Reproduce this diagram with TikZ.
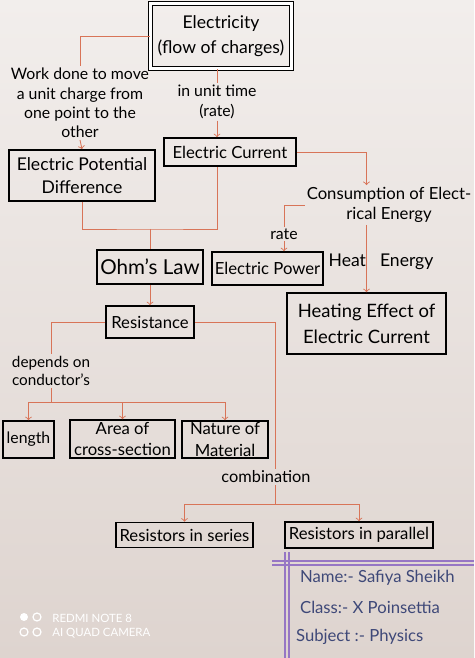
\documentclass[tikz,border=0pt]{standalone}
\usepackage{fontspec}
\setmainfont{Lato}

\definecolor{paper}{RGB}{242,238,236}
\definecolor{paperlow}{RGB}{222,212,207}
\definecolor{redline}{RGB}{216,116,88}
\definecolor{frame}{RGB}{150,118,196}
\definecolor{ink}{RGB}{62,72,120}

\tikzset{
  box/.style={draw, line width=0.9pt, align=center, inner sep=0pt, font=\fontsize{9.5}{12}\selectfont},
  txt/.style={align=center, inner sep=1pt, font=\fontsize{9}{11}\selectfont},
  link/.style={redline, line width=0.5pt},
}

\begin{document}
\begin{tikzpicture}[x=0.02cm, y=-0.02cm]
    \useasboundingbox (0, 0) rectangle (474, 658);
    \shade [top color=paper, bottom color=paperlow] (0, 0) rectangle (474, 658);
    % top
    \node [box, double, line width=0.6pt, double distance=1.6pt, minimum width=2.82cm, minimum height=1.30cm,
           font=\fontsize{10}{14}\selectfont] (elec) at (221, 36) {Electricity\\(flow of charges)};
    \node [txt] (work) at (80, 103) {Work done to move\\a unit charge from\\one point to the\\other};
    \node [txt] (time) at (217, 102) {in unit time\\(rate)};
    \node [box, minimum width=2.92cm, minimum height=1.02cm, font=\fontsize{10}{13}\selectfont] (epd) at (82, 175.5) {Electric Potential\\Difference};
    \node [box, minimum width=2.64cm, minimum height=0.56cm] (cur) at (230, 152) {Electric Current};
    % energy side
    \node [txt, font=\fontsize{9.5}{11.5}\selectfont] (cons) at (389, 205) {Consumption of Elect-\\rical Energy};
    \node [txt] (rate) at (284, 234) {rate};
    \node [box, minimum width=2.22cm, minimum height=0.66cm] (power) at (267.5, 268.5) {Electric Power};
    \node [txt, font=\fontsize{10}{12}\selectfont] (heatE) at (381, 262) {Heat\hspace{0.8em}Energy};
    \node [box, minimum width=3.18cm, minimum height=1.22cm, font=\fontsize{10.5}{15}\selectfont] (heat) at (366.5, 323.5) {Heating Effect of\\Electric Current};
    % resistance
    \node [box, minimum width=2.12cm, minimum height=0.68cm, font=\fontsize{11.7}{14}\selectfont] (ohm) at (150, 267) {Ohm's Law};
    \node [box, minimum width=1.76cm, minimum height=0.64cm] (res) at (150, 322) {Resistance};
    \node [txt, font=\fontsize{8.7}{10.5}\selectfont] (dep) at (51, 371) {depends on\\conductor's};
    \node [box, minimum width=1.02cm, minimum height=0.74cm, font=\fontsize{9}{11}\selectfont] (len) at (28.5, 439.5) {length};
    \node [box, minimum width=2.10cm, minimum height=0.76cm] (area) at (122.5, 439) {Area of\\cross-section};
    \node [box, minimum width=1.72cm, minimum height=0.74cm] (nat) at (225, 439.5) {Nature of\\Material};
    \node [txt, font=\fontsize{9.3}{11}\selectfont] (comb) at (266, 477) {combination};
    \node [box, minimum width=2.74cm, minimum height=0.50cm] (ser) at (184.5, 535) {Resistors in series};
    \node [box, minimum width=2.96cm, minimum height=0.52cm] (par) at (359, 535) {Resistors in parallel};
    \coordinate (jn) at (150, 229);
    \coordinate (bus1) at (51, 402);
    \coordinate (bus2) at (275, 504);
    % links
    \draw [link]     (elec.west) -| (work.north);
    \draw [link, ->] (work.south) -- (epd.north);
    \draw [link]     (time.north |- elec.south) -- (time.north);
    \draw [link, ->] (time.south) -- (time.south |- cur.north);
    \draw [link, ->] (cur.east) -| (cons.north -| heat.north);
    \draw [link]     (cons.west) -| (rate.north);
    \draw [link, ->] (rate.south) -- (rate.south |- power.north);
    \draw [link, ->] (cons.south -| heat.north) -- (heat.north);
    \draw [link]     (epd.south) |- (jn) -| (time.south |- cur.south);
    \draw [link]     (jn) -- (ohm.north);
    \draw [link, ->] (ohm.south) -- (res.north);
    \draw [link]     (res.west) -| (dep.north);
    \draw [link]     (dep.south) -- (bus1);
    \draw [link]     (bus1 -| len.north) -- (bus1 -| nat.north);
    \foreach \n in {len, area, nat}
        \draw [link, ->] (bus1 -| \n.north) -- (\n.north);
    \draw [link]     (res.east) -| (bus2 |- comb.north);
    \draw [link]     (bus2 |- comb.south) -- (bus2);
    \draw [link]     (bus2 -| ser.north) -- (bus2 -| par.north);
    \foreach \n in {ser, par}
        \draw [link, ->] (bus2 -| \n.north) -- (\n.north);
    % name frame
    \draw [frame, line width=0.6pt] (285, 552) -- (285, 658) (289, 552) -- (289, 658);
    \draw [frame, line width=0.6pt] (272, 561) -- (474, 561) (272, 565) -- (474, 565);
    \node [txt, ink, anchor=west, font=\fontsize{9.5}{11}\selectfont] (name) at (298, 578) {Name:- Safiya Sheikh};
    \node [txt, ink, anchor=west, font=\fontsize{9.5}{11}\selectfont] (cls) at (298, 607) {Class:- X Poinsettia};
    \node [txt, ink, anchor=west, font=\fontsize{9.5}{11}\selectfont] (subj) at (294, 637) {Subject :- Physics};
    % camera mark
    \fill [white] (24, 617) circle (4);
    \draw [white, line width=0.7pt] (37, 617) circle (4) (24, 632) circle (4) (37, 632) circle (4);
    \node [white, anchor=west, inner sep=0pt, font=\fontsize{6.5}{8}\selectfont] (cam1) at (52, 618) {REDMI NOTE 8};
    \node [white, anchor=west, inner sep=0pt, font=\fontsize{6.5}{8}\selectfont] (cam2) at (52, 633) {AI QUAD CAMERA};
\end{tikzpicture}
\end{document}
